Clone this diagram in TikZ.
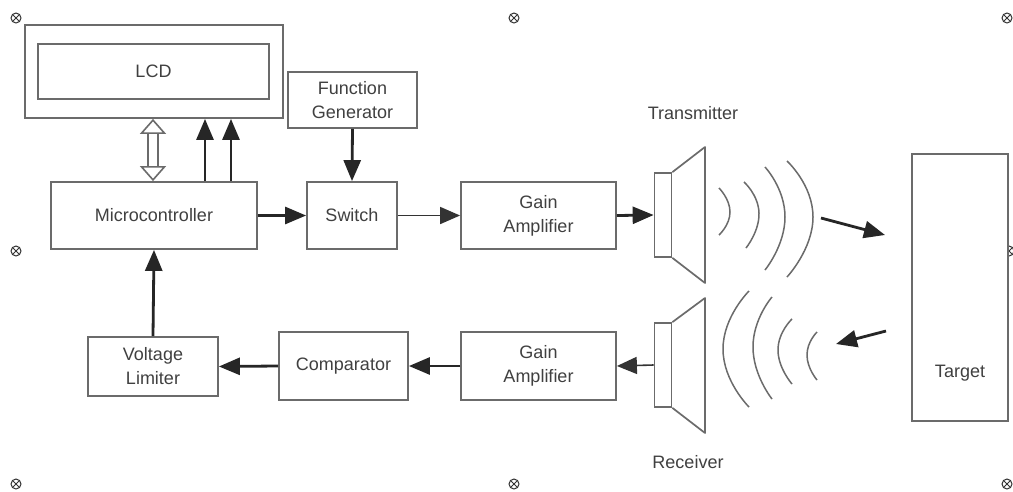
\documentclass[tikz,border=0pt]{standalone}
\usepackage{fontspec}
\setmainfont{Liberation Sans}
\usetikzlibrary{arrows.meta,calc}
\definecolor{linegray}{gray}{0.42}
\definecolor{textgray}{gray}{0.25}
\tikzset{
  blockbox/.style={draw=linegray,line width=1.8pt,fill=white,inner sep=0pt,align=center,text=textgray,
    font=\fontsize{18}{24}\selectfont},
  caption/.style={inner sep=0pt,text=textgray,font=\fontsize{18}{24}\selectfont},
  flow/.style={draw=black!85,line width=2.8pt,-{Triangle[length=21pt,width=17pt]}},
  thinflow/.style={draw=black!80,line width=1.6pt,-{Triangle[length=20pt,width=17pt]}},
  speaker/.style={draw=linegray,line width=1.7pt,line join=round},
  wave/.style={draw=linegray,line width=1.5pt},
  pin/.style={circle,draw=black!80,line width=1pt,minimum size=10pt,inner sep=0pt,
    path picture={\draw[black!80,line width=1pt]
      (path picture bounding box.south west)--(path picture bounding box.north east)
      (path picture bounding box.north west)--(path picture bounding box.south east);}},
}
\begin{document}
\begin{tikzpicture}[x=1pt,y=-1pt]
\useasboundingbox (0,0) rectangle (1013,491);
\fill[white] (0,0) rectangle (1013,491);
% corner and edge pins
\node[pin] (p1) at (16,18) {};
\node[pin] (p2) at (514,18) {};
\node[pin] (p3) at (1007,18) {};
\node[pin] (p4) at (16,251) {};
\node[pin] (p5) at (1009,251) {};
\node[pin] (p6) at (16,484) {};
\node[pin] (p7) at (514,484) {};
\node[pin] (p8) at (1007,484) {};
% blocks
\node[blockbox,minimum width=258pt,minimum height=93pt] (lcdo) at (154,71.5) {};
\node[blockbox,minimum width=231pt,minimum height=55pt] (lcd) at (153.5,71.5) {LCD};
\node[blockbox,minimum width=129pt,minimum height=56pt] (fg) at (352.5,100) {Function\\Generator};
\node[blockbox,minimum width=206pt,minimum height=67pt] (mcu) at (154,215.5) {Microcontroller};
\node[blockbox,minimum width=90pt,minimum height=67pt] (sw) at (352,215.5) {Switch};
\node[blockbox,minimum width=155pt,minimum height=67pt] (ga1) at (538.5,215.5) {Gain\\Amplifier};
\node[blockbox,minimum width=155pt,minimum height=68pt] (ga2) at (538.5,366) {Gain\\Amplifier};
\node[blockbox,minimum width=129pt,minimum height=68pt] (cmp) at (343.5,366) {Comparator};
\node[blockbox,minimum width=130pt,minimum height=59pt] (vl) at (153,366.5) {Voltage\\Limiter};
\node[blockbox,minimum width=96pt,minimum height=267pt] (tgt) at (960,287.5) {};
\node[caption] (tgtlabel) at (960,373) {Target};
\node[caption] (txlabel) at (693,113) {Transmitter};
\node[caption] (rxlabel) at (688,462) {Receiver};
% transmitter
\node[draw=linegray,line width=1.7pt,inner sep=0pt,minimum width=17pt,minimum height=84pt] (tx) at (663,215) {};
\draw[speaker] (tx.north east) -- (705,147) -- (705,283) -- (tx.south east);
% receiver
\node[draw=linegray,line width=1.7pt,inner sep=0pt,minimum width=17pt,minimum height=84pt] (rx) at (663,365) {};
\draw[speaker] (rx.north east) -- (705,298) -- (705,433) -- (rx.south east);
% transmitted waves
\draw[wave] plot[smooth,tension=1] coordinates {(719,188) (730,212) (719,235)};
\draw[wave] plot[smooth,tension=1] coordinates {(744,182) (759,213) (746,248)};
\draw[wave] plot[smooth,tension=1] coordinates {(765,167) (785,217) (765,270)};
\draw[wave] plot[smooth,tension=1] coordinates {(787,161) (813,217) (787,277)};
% received waves
\draw[wave] plot[smooth,tension=1] coordinates {(749,291) (723,349) (749,407)};
\draw[wave] plot[smooth,tension=1] coordinates {(772,297) (753,347) (772,399)};
\draw[wave] plot[smooth,tension=1] coordinates {(792,319) (778,350) (792,384)};
\draw[wave] plot[smooth,tension=1] coordinates {(817,332) (807,355) (817,380)};
% named free ends
\coordinate (a0) at (153,150);
\coordinate (a1) at (205,150);
\coordinate (a2) at (231,150);
\coordinate (txs) at (821,218);
\coordinate (txe) at (885,235);
\coordinate (rxs) at (886,331);
\coordinate (rxe) at (836,344);
% connectors
\draw[draw=linegray,line width=1.6pt,double=white,double distance=8pt,
  {Triangle[open,fill=white,length=15pt,width=26pt,line width=1.6pt]}-{Triangle[open,fill=white,length=15pt,width=26pt,line width=1.6pt]}]
  (lcdo.south -| a0) -- (mcu.north -| a0);
\draw[flow] (mcu.north -| a1) -- (lcdo.south -| a1);
\draw[flow] (mcu.north -| a2) -- (lcdo.south -| a2);
\draw[flow] (fg.south) -- (sw.north);
\draw[flow] (mcu.east) -- (sw.west);
\draw[thinflow] (sw.east) -- (ga1.west);
\draw[flow] (ga1.east) -- (tx.west);
\draw[thinflow] (rx.west) -- (ga2.east);
\draw[flow] (ga2.west) -- (cmp.east);
\draw[flow] (cmp.west) -- (vl.east);
\draw[flow] (vl.north) -- (mcu.south);
\draw[flow] (txs) -- (txe);
\draw[flow] (rxs) -- (rxe);
\end{tikzpicture}
\end{document}
